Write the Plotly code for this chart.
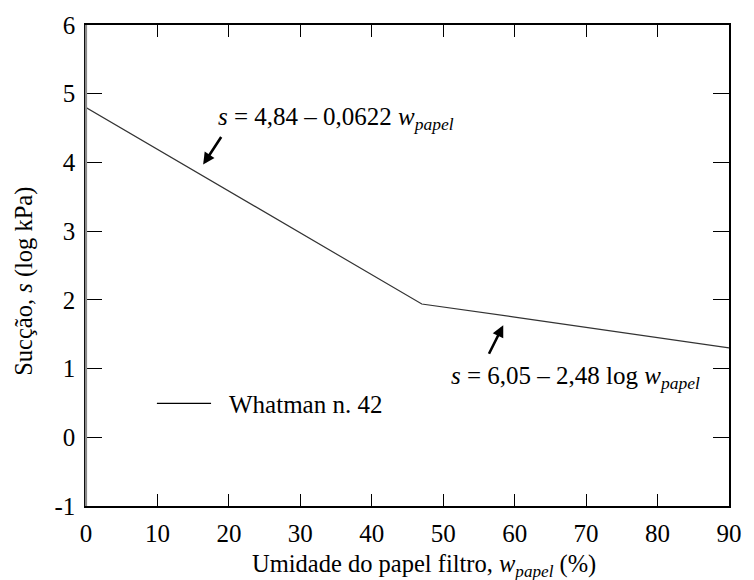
import plotly.graph_objects as go

# Filter-paper calibration curve (Whatman n. 42)
w_papel = [0, 47, 60, 70, 80, 90]
succao = [4.80, 1.94, 1.75, 1.60, 1.46, 1.30]

x_ticks = [0, 10, 20, 30, 40, 50, 60, 70, 80, 90]
y_ticks = [-1, 0, 1, 2, 3, 4, 5, 6]
y_ticktext = ["-1", "0", "1", "2", "3", "4", "5", "6"]

FONT = "Liberation Serif"
FS = 25

W, H = 754, 580
L, R, T, B = 86, 15, 19, 74


def px_to_paper(px, py):
    return (px - L) / (W - L - R), 1 - (py - T) / (H - T - B)


def tfont(size=FS):
    return dict(family=FONT, size=size, color="black")


fig = go.Figure()
fig.add_trace(go.Scatter(
    x=w_papel, y=succao, mode="lines",
    line=dict(color="#333333", width=1.2),
    showlegend=False, hoverinfo="skip",
))

axis_common = dict(
    showgrid=False, zeroline=False, showline=True, linecolor="black",
    linewidth=1.5, mirror="allticks", ticks="inside", tickcolor="black",
    tickwidth=1, tickfont=tfont(),
)

fig.update_xaxes(range=[0, 90], tickvals=x_ticks, ticklen=12,
                 ticklabelstandoff=4, **axis_common)
fig.update_yaxes(range=[-1, 6], tickvals=y_ticks, ticktext=y_ticktext, ticklen=16,
                 ticklabelstandoff=4, **axis_common)

# Left spine drawn in grey
fig.add_shape(type="line", xref="paper", yref="paper", x0=0, x1=0, y0=0, y1=1,
              line=dict(color="#8a8a8a", width=2.2))

# Axis titles
tx, ty = px_to_paper(253, 566)
fig.add_annotation(
    x=tx, y=ty, xref="paper", yref="paper", showarrow=False,
    text="Umidade do papel filtro, <i>w<sub>papel</sub></i> (%)",
    font=tfont(24.5), xanchor="left", yanchor="middle",
)
tx, ty = px_to_paper(23, 278)
fig.add_annotation(
    x=tx, y=ty, xref="paper", yref="paper", showarrow=False, textangle=-90,
    text="Sucção, <i>s</i> (log kPa)",
    font=tfont(24.5), xanchor="center", yanchor="middle",
)

# Equation labels with arrows
fig.add_annotation(
    x=16.4, y=3.97, ax=19, ay=-29, text="", showarrow=True,
    arrowhead=2, arrowsize=0.9, arrowwidth=2.6, arrowcolor="black",
)
fig.add_annotation(
    x=58.4, y=1.63, ax=-15, ay=30, text="", showarrow=True,
    arrowhead=2, arrowsize=0.9, arrowwidth=2.6, arrowcolor="black",
)

labels = [
    (218, 114, "<i>s</i> = 4,84 – 0,0622 <i>w<sub>papel</sub></i>"),
    (455, 376, "<i>s</i> = 6,05 – 2,48 log <i>w<sub>papel</sub></i>"),
    (229, 403, "Whatman n. 42"),
]
for px, py, txt in labels:
    xx, yy = px_to_paper(px, py)
    fig.add_annotation(
        x=xx, y=yy, xref="paper", yref="paper", showarrow=False, text=txt,
        font=tfont(), xanchor="left", yanchor="middle",
    )

# Legend line drawn by hand
lx0, ly = px_to_paper(158, 402)
lx1, _ = px_to_paper(213, 402)
fig.add_shape(type="line", xref="paper", yref="paper", x0=lx0, x1=lx1, y0=ly, y1=ly,
              line=dict(color="black", width=1.2))

fig.update_layout(
    width=W, height=H,
    margin=dict(l=L, r=R, t=T, b=B),
    paper_bgcolor="white", plot_bgcolor="white",
)

fig.write_html("out.html")
